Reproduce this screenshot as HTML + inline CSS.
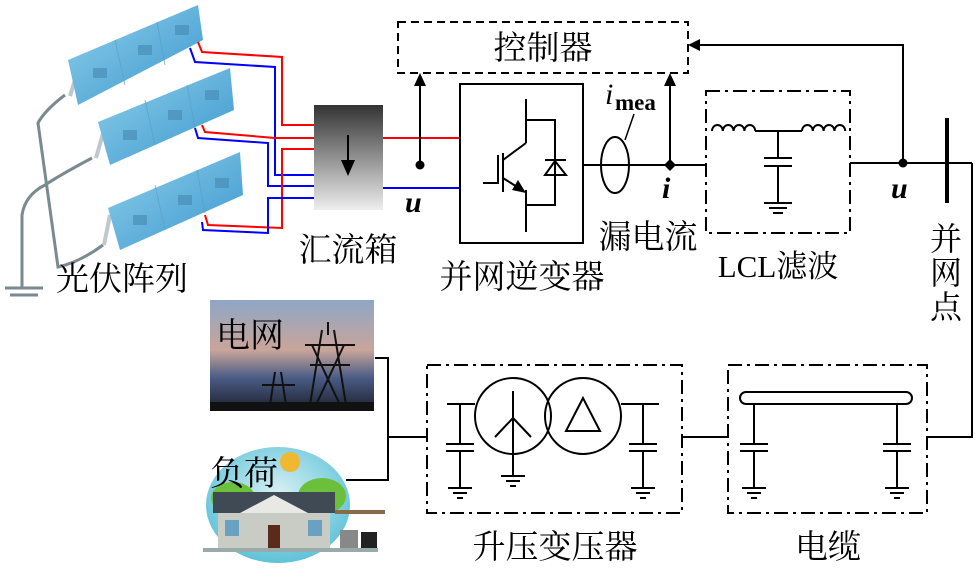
<!DOCTYPE html>
<html><head><meta charset="utf-8"><style>
body{margin:0;background:#fff}
svg text{font-family:"Liberation Serif","Noto Serif CJK SC",serif;fill:#000}
</style></head><body>
<svg width="975" height="567" viewBox="0 0 975 567" xmlns="http://www.w3.org/2000/svg">
<defs>
<linearGradient id="cb" x1="0" y1="0" x2="0" y2="1">
<stop offset="0" stop-color="#333"/><stop offset="1" stop-color="#eee"/></linearGradient>
<linearGradient id="pv" x1="0" y1="0" x2="1" y2="1">
<stop offset="0" stop-color="#8fd0ea"/><stop offset="1" stop-color="#3a96cf"/></linearGradient>
<linearGradient id="sky" x1="0" y1="0" x2="0" y2="1">
<stop offset="0" stop-color="#8ea6c6"/><stop offset="0.45" stop-color="#c9a59a"/><stop offset="0.7" stop-color="#4a5c86"/><stop offset="1" stop-color="#1c1f2a"/></linearGradient>
<radialGradient id="bub" cx="0.5" cy="0.4" r="0.6"><stop offset="0" stop-color="#d8f0f4"/><stop offset="1" stop-color="#5ec2d8"/></radialGradient>
</defs>

<g fill="none" stroke="#7a8a90" stroke-width="3">
<path d="M65,95 Q45,110 38,123 L58,267 Q80,262 103,245"/>
<path d="M92,158 Q60,175 45,185 Q25,195 22,215 L22,287"/>
</g>
<g stroke="#7a8a90" stroke-width="3"><line x1="5" y1="288" x2="43" y2="288"/><line x1="10" y1="295" x2="38" y2="295"/></g>
<g stroke="#bfc8cc" stroke-width="4">
<line x1="70" y1="96" x2="78" y2="70"/><line x1="96" y1="158" x2="104" y2="130"/><line x1="104" y1="245" x2="110" y2="215"/>
</g>
<polygon points="68,60 198,5 203,40 78,105" fill="url(#pv)"/>
<polygon points="98,122 230,68 234,110 110,165" fill="url(#pv)"/>
<polygon points="108,208 240,152 243,195 120,250" fill="url(#pv)"/>
<g stroke="#5a9fc6" stroke-width="1" opacity="0.7">
<line x1="115" y1="40" x2="125" y2="85"/><line x1="157" y1="22" x2="165" y2="65"/>
<line x1="145" y1="100" x2="155" y2="145"/><line x1="187" y1="85" x2="195" y2="128"/>
<line x1="155" y1="185" x2="165" y2="230"/><line x1="197" y1="170" x2="205" y2="213"/>
</g>
<g fill="#4a8fb8" opacity="0.7">
<rect x="93" y="68" width="14" height="10"/><rect x="138" y="45" width="14" height="10"/><rect x="175" y="25" width="14" height="10"/>
<rect x="123" y="130" width="14" height="10"/><rect x="168" y="110" width="14" height="10"/><rect x="205" y="90" width="14" height="10"/>
<rect x="133" y="215" width="14" height="10"/><rect x="178" y="195" width="14" height="10"/><rect x="215" y="178" width="14" height="10"/>
</g>
<g fill="none" stroke-width="2">
<path stroke="#f00" d="M198,42 L202,52 L282,57 L282,125 L314,125"/>
<path stroke="#00f" d="M190,48 L195,62 L275,67 L275,175 L314,175"/>
<path stroke="#f00" d="M202,125 L205,132 L275,138 L314,138"/>
<path stroke="#00f" d="M195,128 L198,138 L268,143 L268,186 L314,186"/>
<path stroke="#f00" d="M205,215 L208,225 L282,228 L282,149 L314,149"/>
<path stroke="#00f" d="M202,222 L203,230 L268,233 L268,198 L314,198"/>
<line stroke="#f00" x1="383" y1="138" x2="460" y2="138"/>
<line stroke="#00f" x1="383" y1="188" x2="460" y2="188"/>
</g>
<rect x="314" y="105" width="69" height="105" fill="url(#cb)"/>
<line x1="348" y1="135" x2="348" y2="165" stroke="#000" stroke-width="2"/>
<polygon points="341,160 355,160 348,176" fill="#000"/>

<rect x="398" y="22" width="290" height="51" fill="none" stroke="#000" stroke-width="2" stroke-dasharray="8,5"/>
<text x="543" y="59" font-size="33" text-anchor="middle">控制器</text>
<g stroke="#000" stroke-width="2" fill="none">
<line x1="420" y1="165" x2="420" y2="80"/>
<line x1="670" y1="165" x2="670" y2="80"/>
<polyline points="903,163 903,45 697,45"/>
</g>
<polygon points="414,86 420,73 426,86" fill="#000"/>
<polygon points="664,86 670,73 676,86" fill="#000"/>
<polygon points="700,39 688,45 700,51" fill="#000"/>
<circle cx="420" cy="165" r="4.5"/>
<text x="405" y="212" font-size="30" font-style="italic" font-weight="bold">u</text>

<rect x="460" y="84" width="123" height="159" fill="none" stroke="#000" stroke-width="2"/>
<g stroke="#000" stroke-width="2" fill="none">
<polyline points="526,99 526,120 555,120 555,205 526,205"/>
<line x1="526" y1="120" x2="526" y2="143"/><line x1="526" y1="143" x2="503" y2="160"/>
<line x1="503" y1="153" x2="503" y2="192"/>
<polyline points="498,155 498,183 483,183"/>
<line x1="503" y1="178" x2="522" y2="190"/>
<line x1="526" y1="190" x2="526" y2="232"/>
<line x1="545" y1="160" x2="566" y2="160"/>
<polygon points="555,161 545,175 566,175"/>
</g>
<polygon points="526,193 512,190 518,180" fill="#000"/>
<line x1="583" y1="165" x2="706" y2="165" stroke="#000" stroke-width="2"/>
<ellipse cx="615" cy="165" rx="14" ry="28" fill="none" stroke="#000" stroke-width="2"/>
<line x1="625" y1="140" x2="634" y2="114" stroke="#000" stroke-width="1.5"/>
<polygon points="670,159 676,165 670,171 664,165" fill="#000"/>
<text x="605" y="104" font-size="30" font-style="italic">i</text>
<text x="615" y="110" font-size="23" font-weight="bold">mea</text>
<text x="662" y="198" font-size="30" font-style="italic" font-weight="bold">i</text>
<text x="648" y="248" font-size="33" text-anchor="middle">漏电流</text>
<text x="522" y="288" font-size="33" text-anchor="middle">并网逆变器</text>
<text x="348" y="261" font-size="33" text-anchor="middle">汇流箱</text>
<text x="56" y="290" font-size="33">光伏阵列</text>

<rect x="706" y="91" width="144" height="142" fill="none" stroke="#000" stroke-width="2" stroke-dasharray="14,5,3,5"/>
<g stroke="#000" stroke-width="2" fill="none">
<path d="M712,131 a5.4,6 0 0 1 10.8,0 a5.4,6 0 0 1 10.8,0 a5.4,6 0 0 1 10.8,0 a5.4,6 0 0 1 10.8,0"/>
<path d="M802,131 a5.4,6 0 0 1 10.8,0 a5.4,6 0 0 1 10.8,0 a5.4,6 0 0 1 10.8,0 a5.4,6 0 0 1 10.8,0"/>
<line x1="755" y1="131" x2="802" y2="131"/>
<line x1="778" y1="131" x2="778" y2="158"/><line x1="764" y1="158" x2="792" y2="158"/>
<line x1="764" y1="166" x2="792" y2="166"/><line x1="778" y1="166" x2="778" y2="203"/>
<line x1="764" y1="203" x2="792" y2="203"/><line x1="769" y1="208" x2="787" y2="208"/><line x1="773" y1="213" x2="783" y2="213"/>
<line x1="850" y1="163" x2="972" y2="163"/>
<polyline points="972,163 972,437 927,437"/>
</g>
<circle cx="903" cy="163" r="4.5"/>
<line x1="947" y1="118" x2="947" y2="203" stroke="#000" stroke-width="4"/>
<text x="891" y="198" font-size="30" font-style="italic" font-weight="bold">u</text>
<text x="778" y="277" font-size="31" text-anchor="middle">LCL滤波</text>
<text x="946" y="250" font-size="32" text-anchor="middle">并</text>
<text x="946" y="284" font-size="32" text-anchor="middle">网</text>
<text x="946" y="318" font-size="32" text-anchor="middle">点</text>

<rect x="728" y="365" width="199" height="148" fill="none" stroke="#000" stroke-width="2" stroke-dasharray="14,5,3,5"/>
<g stroke="#000" stroke-width="2" fill="none">
<rect x="740" y="392" width="172" height="12" rx="6"/>
<line x1="754" y1="404" x2="754" y2="444"/><line x1="740" y1="444" x2="768" y2="444"/><line x1="740" y1="451" x2="768" y2="451"/><line x1="754" y1="451" x2="754" y2="488"/>
<line x1="742" y1="488" x2="766" y2="488"/><line x1="747" y1="493" x2="761" y2="493"/><line x1="751" y1="498" x2="757" y2="498"/>
<line x1="897" y1="404" x2="897" y2="444"/><line x1="883" y1="444" x2="911" y2="444"/><line x1="883" y1="451" x2="911" y2="451"/><line x1="897" y1="451" x2="897" y2="488"/>
<line x1="885" y1="488" x2="909" y2="488"/><line x1="890" y1="493" x2="904" y2="493"/><line x1="894" y1="498" x2="900" y2="498"/>
<line x1="682" y1="437" x2="728" y2="437"/>
</g>
<text x="828" y="558" font-size="33" text-anchor="middle">电缆</text>

<rect x="427" y="365" width="255" height="148" fill="none" stroke="#000" stroke-width="2" stroke-dasharray="14,5,3,5"/>
<g stroke="#000" stroke-width="2" fill="none">
<circle cx="513" cy="416" r="38"/><circle cx="583" cy="416" r="38"/>
<line x1="513" y1="391" x2="513" y2="476"/><line x1="513" y1="418" x2="495" y2="437"/><line x1="513" y1="418" x2="531" y2="437"/>
<line x1="501" y1="476" x2="525" y2="476"/><line x1="506" y1="481" x2="520" y2="481"/><line x1="510" y1="486" x2="516" y2="486"/>
<polygon points="583,398 566,431 600,431"/>
<line x1="475" y1="404" x2="447" y2="404"/><line x1="460" y1="404" x2="460" y2="444"/><line x1="446" y1="444" x2="474" y2="444"/><line x1="446" y1="451" x2="474" y2="451"/><line x1="460" y1="451" x2="460" y2="488"/>
<line x1="448" y1="488" x2="472" y2="488"/><line x1="453" y1="493" x2="467" y2="493"/><line x1="457" y1="498" x2="463" y2="498"/>
<line x1="621" y1="404" x2="659" y2="404"/><line x1="643" y1="404" x2="643" y2="444"/><line x1="629" y1="444" x2="657" y2="444"/><line x1="629" y1="451" x2="657" y2="451"/><line x1="643" y1="451" x2="643" y2="488"/>
<line x1="631" y1="488" x2="655" y2="488"/><line x1="636" y1="493" x2="650" y2="493"/><line x1="640" y1="498" x2="646" y2="498"/>
<line x1="388" y1="437" x2="427" y2="437"/>
<polyline points="375,358 388,358 388,480 346,480"/>
</g>
<text x="555" y="558" font-size="33" text-anchor="middle">升压变压器</text>

<rect x="210" y="300" width="164" height="111" fill="url(#sky)"/>
<g stroke="#111" stroke-width="2" fill="none">
<path d="M322,330 L310,405 M334,330 L346,405 M328,322 L328,335 M305,345 L355,345 M310,365 L350,365 M312,345 L340,405 M344,345 L316,405"/>
<path d="M275,372 L270,405 M281,372 L286,405 M262,385 L295,385"/>
</g>
<rect x="210" y="402" width="164" height="9" fill="#111"/>
<text x="216" y="347" font-size="34">电网</text>

<ellipse cx="278" cy="505" rx="72" ry="58" fill="url(#bub)"/>
<circle cx="290" cy="462" r="10" fill="#f0b830"/>
<ellipse cx="233" cy="498" rx="22" ry="16" fill="#6cbf3a"/>
<ellipse cx="322" cy="496" rx="24" ry="18" fill="#6cbf3a"/>
<polygon points="213,492 335,492 335,513 213,513" fill="#3f4a55"/>
<rect x="218" y="513" width="112" height="37" fill="#c9cbc5"/>
<polygon points="240,513 274,495 308,513" fill="#e8e8e4"/>
<rect x="268" y="525" width="12" height="25" fill="#5a2a1a"/>
<rect x="225" y="520" width="14" height="16" fill="#6aa0c0"/><rect x="308" y="520" width="14" height="16" fill="#6aa0c0"/>
<rect x="335" y="510" width="50" height="4" fill="#8a6a4a"/>
<rect x="340" y="530" width="18" height="18" fill="#888"/><rect x="361" y="532" width="16" height="16" fill="#222"/>
<rect x="203" y="548" width="175" height="4" fill="#9aa"/>
<text x="210" y="485" font-size="34">负荷</text>
</svg>
</body></html>
